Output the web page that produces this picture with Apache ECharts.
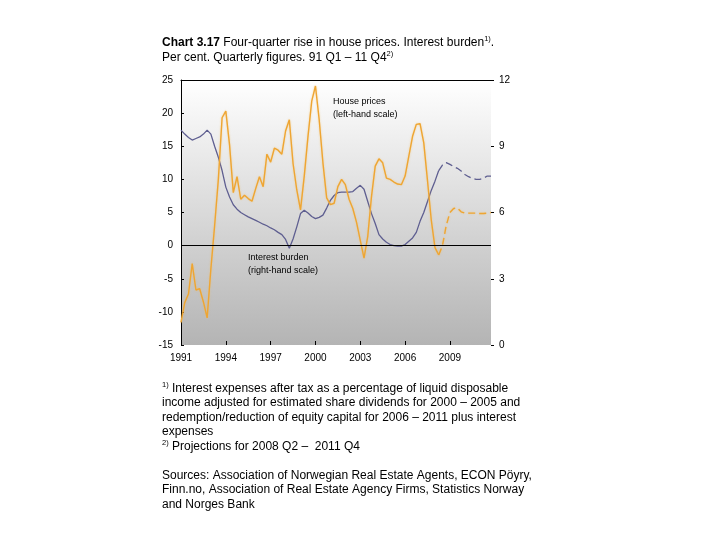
<!DOCTYPE html>
<html><head><meta charset="utf-8">
<script src="https://cdn.jsdelivr.net/npm/echarts@6/dist/echarts.min.js"></script>
<style>html,body{margin:0;padding:0;background:#fff}#c{width:720px;height:540px}</style>
</head><body><div id="c"></div>
<script>
// ---- Data ----
const years = [1991,1992,1993,1994,1995,1996,1997,1998,1999,2000,2001,2002,2003,2004,2005,2006,2007,2008,2009,2010,2011];
const quarterNames = ['Q1','Q2','Q3','Q4'];
const yearTickLabels = ['1991','1994','1997','2000','2003','2006','2009'];

// Four-quarter rise in house prices, per cent (left-hand scale), 91 Q1 - 08 Q2
const housePricesActual = [
  -11.6,-8.6,-7.3,-2.7,-6.7,-6.5,-8.5,-10.9,-3.5,3.0,
  10.0,19.3,20.3,15.2,8.0,10.4,7.0,7.6,7.1,6.7,
  8.6,10.4,8.9,13.8,12.6,14.7,14.4,13.8,17.3,19.0,
  12.4,8.4,5.4,10.5,16.5,21.8,24.1,19.0,12.5,7.2,
  6.2,6.4,8.9,10.0,9.2,7.0,5.6,3.5,0.8,-1.9,
  1.4,7.4,12.0,13.1,12.5,10.2,10.0,9.6,9.3,9.2,
  10.5,13.5,16.5,18.3,18.4,15.5,9.8,3.9,-0.3,-1.4
];
// Projections, 08 Q2 - 11 Q4
const housePricesProjection = [
  -1.4,0.0,3.0,5.0,5.6,5.7,5.1,4.9,4.9,4.9,4.9,4.85,4.85,4.9,5.0
];
// Interest burden, per cent (right-hand scale), 91 Q1 - 08 Q2
const interestBurdenActual = [
  9.73,9.55,9.4,9.28,9.35,9.42,9.55,9.73,9.55,9.0,
  8.5,7.9,7.15,6.7,6.35,6.15,6.0,5.9,5.8,5.72,
  5.64,5.56,5.47,5.4,5.3,5.22,5.1,5.0,4.78,4.38,
  4.8,5.35,5.95,6.1,5.98,5.82,5.72,5.78,5.88,6.2,
  6.55,6.77,6.9,6.92,6.92,6.92,6.95,7.1,7.23,7.05,
  6.5,5.95,5.5,5.0,4.8,4.65,4.55,4.5,4.48,4.48,
  4.55,4.7,4.85,5.1,5.6,6.0,6.5,7.0,7.42,7.9
];
const interestBurdenProjection = [
  7.9,8.15,8.26,8.18,8.08,8.0,7.88,7.72,7.62,7.55,7.5,7.5,7.55,7.65,7.65
];
const leftTicks = {min:-15, max:25, step:5};
const rightTicks = {min:0, max:12, step:3};

// ---- Build ----
const categories = [];
years.forEach(y => quarterNames.forEach(q => categories.push(y + ' ' + q)));
const projStart = housePricesActual.length - 1;
function padProj(arr){ return new Array(projStart).fill(null).concat(arr); }

const orange = '#eea533';
const blue = '#5e5e90';
const FONT = "'Liberation Sans', Arial, sans-serif";

const chart = echarts.init(document.getElementById('c'), null, {renderer:'canvas'});
chart.setOption({
  animation:false,
  backgroundColor:'#ffffff',
  grid:{left:181, right:229, top:80, bottom:195, show:true, borderWidth:0,
    backgroundColor:{type:'linear',x:0,y:0,x2:0,y2:1,colorStops:[{offset:0,color:'#ffffff'},{offset:1,color:'#b4b4b4'}]}},
  xAxis:[{
    type:'category', data:categories, boundaryGap:false,
    axisLine:{show:false, onZero:false},
    axisTick:{show:true, inside:true, length:4, lineStyle:{color:'#000'},
      interval:(i)=> i % 12 === 0},
    axisLabel:{interval:(i)=> i % 12 === 0, margin:8, color:'#000', fontSize:10, fontFamily:FONT,
      formatter:(v, i)=> yearTickLabels[Math.round(i/12)] || ''},
    splitLine:{show:false}
  },{
    type:'category', data:categories, boundaryGap:false, position:'top',
    axisLine:{show:true, onZero:false, lineStyle:{color:'#000', width:1}},
    axisTick:{show:false}, axisLabel:{show:false}, splitLine:{show:false}
  }],
  yAxis:[{
    type:'value', min:leftTicks.min, max:leftTicks.max, interval:leftTicks.step, position:'left',
    axisLine:{show:true, onZero:false, lineStyle:{color:'#000', width:1}},
    axisTick:{show:true, inside:true, length:3, lineStyle:{color:'#000'}},
    axisLabel:{color:'#000', fontSize:10, fontFamily:FONT, margin:8},
    splitLine:{show:false}
  },{
    type:'value', min:rightTicks.min, max:rightTicks.max, interval:rightTicks.step, position:'right',
    axisLine:{show:false, onZero:false},
    axisTick:{show:true, inside:false, length:3, lineStyle:{color:'#000'}},
    axisLabel:{color:'#000', fontSize:10, fontFamily:FONT, margin:8},
    splitLine:{show:false}
  }],
  series:[
    {name:'Interest burden', type:'line', yAxisIndex:1, data:interestBurdenActual, showSymbol:false,
      lineStyle:{color:blue, width:1.3}, z:3},
    {name:'Interest burden projection', type:'line', yAxisIndex:1, data:padProj(interestBurdenProjection), showSymbol:false,
      lineStyle:{color:blue, width:1.3, type:[7,4]}, z:3},
    {name:'House prices', type:'line', yAxisIndex:0, data:housePricesActual, showSymbol:false,
      lineStyle:{color:orange, width:1.4, shadowColor:'rgba(245,190,90,0.6)', shadowBlur:2}, z:4,
      markLine:{silent:true, symbol:'none', label:{show:false}, animation:false,
        lineStyle:{color:'#000', width:1, type:'solid'}, data:[{yAxis:0}]}},
    {name:'House prices projection', type:'line', yAxisIndex:0, data:padProj(housePricesProjection), showSymbol:false,
      lineStyle:{color:orange, width:1.4, type:[7,4], shadowColor:'rgba(245,190,90,0.6)', shadowBlur:2}, z:4}
  ],
  graphic:[
    {type:'text', left:162, top:35, style:{
      text:'{b|Chart 3.17} Four-quarter rise in house prices. Interest burden{sup|1)}.\nPer cent. Quarterly figures. 91 Q1 \u2013 11 Q4{sup|2)}',
      font:'12px ' + FONT, fill:'#000', lineHeight:15,
      rich:{b:{fontWeight:'bold', fontSize:12, fontFamily:FONT, lineHeight:15},
            sup:{fontSize:7.5, fontFamily:FONT, verticalAlign:'top'}}}},
    {type:'text', left:333, top:95, style:{text:'House prices\n(left-hand scale)', font:'9px ' + FONT, fill:'#000', lineHeight:13}},
    {type:'text', left:248, top:251, style:{text:'Interest burden\n(right-hand scale)', font:'9px ' + FONT, fill:'#000', lineHeight:13}},
    {type:'text', left:162, top:381, style:{
      text:'{sup|1)} Interest expenses after tax as a percentage of liquid disposable\nincome adjusted for estimated share dividends for 2000 \u2013 2005 and\nredemption/reduction of equity capital for 2006 \u2013 2011 plus interest\nexpenses\n{sup|2)} Projections for 2008 Q2 \u2013  2011 Q4\n\nSources: Association of Norwegian Real Estate Agents, ECON P\u00f6yry,\nFinn.no, Association of Real Estate Agency Firms, Statistics Norway\nand Norges Bank',
      font:'12px ' + FONT, fill:'#000', lineHeight:14.5,
      rich:{sup:{fontSize:7.5, fontFamily:FONT, verticalAlign:'top'}}}}
  ]
});
</script></body></html>
